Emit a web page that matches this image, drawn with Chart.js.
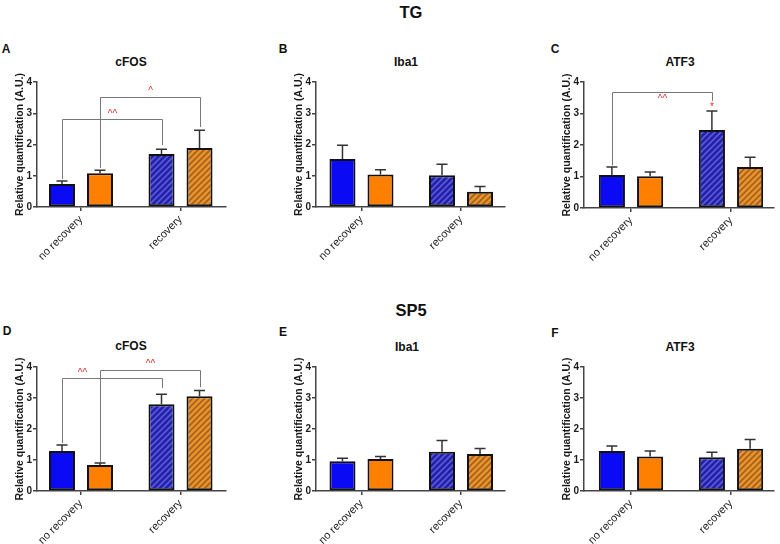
<!DOCTYPE html>
<html>
<head>
<meta charset="utf-8">
<script src="https://cdn.jsdelivr.net/npm/chart.js@4.4.0/dist/chart.umd.min.js"></script>
<style>
  html, body { margin: 0; padding: 0; background: #fff; }
  #wrap { position: relative; width: 780px; height: 544px; overflow: hidden;
          font-family: "Liberation Sans", Arial, sans-serif; color: #111; }
  .txt { position: absolute; transform: translate(-50%, -50%); font-weight: bold; white-space: nowrap; }
  .big { font-size: 16.5px; }
  .let { font-size: 12px; }
  .sub { font-size: 12px; }
  canvas { position: absolute; }
</style>
</head>
<body>
<div id="wrap">
  <div class="txt big" style="left:411px;top:12px">TG</div>
  <div class="txt big" style="left:411px;top:310px">SP5</div>

  <div class="txt let" style="left:6px;top:49px">A</div>
  <div class="txt let" style="left:283px;top:49px">B</div>
  <div class="txt let" style="left:555px;top:49px">C</div>
  <div class="txt let" style="left:7px;top:331px">D</div>
  <div class="txt let" style="left:283px;top:332px">E</div>
  <div class="txt let" style="left:555px;top:333px">F</div>

  <div class="txt sub" style="left:131px;top:62px">cFOS</div>
  <div class="txt sub" style="left:406px;top:62px">Iba1</div>
  <div class="txt sub" style="left:680px;top:62px">ATF3</div>
  <div class="txt sub" style="left:131px;top:346px">cFOS</div>
  <div class="txt sub" style="left:407px;top:347px">Iba1</div>
  <div class="txt sub" style="left:680px;top:347px">ATF3</div>
</div>

<script>
/* ---- Dados ---- */
const categories = ['no recovery', 'recovery'];
const groupPos   = [0, 1];
const yTicks     = [0, 1, 2, 3, 4];
const yTitle     = 'Relative quantification (A.U.)';

// TG
const tgCfosBlue      = [0.74, 1.70];
const tgCfosBlueErr   = [0.09, 0.15];
const tgCfosOrange    = [1.08, 1.89];
const tgCfosOrangeErr = [0.10, 0.57];

const tgIbaBlue       = [1.54, 1.02];
const tgIbaBlueErr    = [0.44, 0.35];
const tgIbaOrange     = [1.04, 0.49];
const tgIbaOrangeErr  = [0.15, 0.17];

const tgAtfBlue       = [1.05, 2.48];
const tgAtfBlueErr    = [0.25, 0.60];
const tgAtfOrange     = [1.01, 1.30];
const tgAtfOrangeErr  = [0.13, 0.31];

// SP5
const spCfosBlue      = [1.29, 2.80];
const spCfosBlueErr   = [0.19, 0.32];
const spCfosOrange    = [0.84, 3.06];
const spCfosOrangeErr = [0.06, 0.18];

const spIbaBlue       = [0.96, 1.27];
const spIbaBlueErr    = [0.10, 0.36];
const spIbaOrange     = [1.03, 1.19];
const spIbaOrangeErr  = [0.08, 0.18];

const spAtfBlue       = [1.29, 1.09];
const spAtfBlueErr    = [0.16, 0.16];
const spAtfOrange     = [1.11, 1.36];
const spAtfOrangeErr  = [0.18, 0.30];

// colchetes de significância: dataset, altura, pernas [esq, dir], rótulo
const tgCfosBrackets = [
  { ds: 0, top: 2.82, legs: [0.90, 1.98], label: '^^', at: 0.5, labelY: 2.97 },
  { ds: 1, top: 3.52, legs: [1.25, 2.56], label: '^',  at: 0.5, labelY: 3.70 }
];
const tgAtfBrackets = [
  { ds: 0, top: 3.68, legs: [1.35, 3.40], label: '^^', at: 0.5, labelY: 3.46 }
];
const tgAtfStars = [ { ds: 0, group: 1, y: 3.20, label: '*' } ];
const spCfosBrackets = [
  { ds: 0, top: 3.65, legs: [1.55, 3.32], label: '^^', at: 0.2, labelY: 3.81 },
  { ds: 1, top: 3.90, legs: [0.94, 3.35], label: '^^', at: 0.5, labelY: 4.08 }
];

/* ---- Painéis ---- */
const panels = [
  { axis: [37, 226, 82, 207],  xr: [-0.442, 1.457], blue: tgCfosBlue, blueErr: tgCfosBlueErr, orange: tgCfosOrange, orangeErr: tgCfosOrangeErr, brackets: tgCfosBrackets },
  { axis: [316, 505, 82, 207], xr: [-0.457, 1.442], blue: tgIbaBlue,  blueErr: tgIbaBlueErr,  orange: tgIbaOrange,  orangeErr: tgIbaOrangeErr },
  { axis: [584, 774, 82, 208], xr: [-0.47, 1.43],   blue: tgAtfBlue,  blueErr: tgAtfBlueErr,  orange: tgAtfOrange,  orangeErr: tgAtfOrangeErr, brackets: tgAtfBrackets, stars: tgAtfStars },
  { axis: [37, 226, 367, 491], xr: [-0.442, 1.457], blue: spCfosBlue, blueErr: spCfosBlueErr, orange: spCfosOrange, orangeErr: spCfosOrangeErr, brackets: spCfosBrackets },
  { axis: [316, 505, 367, 491],xr: [-0.457, 1.442], blue: spIbaBlue,  blueErr: spIbaBlueErr,  orange: spIbaOrange,  orangeErr: spIbaOrangeErr },
  { axis: [584, 774, 367, 491],xr: [-0.47, 1.43],   blue: spAtfBlue,  blueErr: spAtfBlueErr,  orange: spAtfOrange,  orangeErr: spAtfOrangeErr }
];

const Y_W = 37, PAD_T = 10, X_H = 70, PAD_R = 6;
const AXIS_COLOR = '#444';
const FONT = '"Liberation Sans", Arial, sans-serif';

/* ---- Hachura diagonal ---- */
function makeHatch(ctx, bg, stripe) {
  const c = document.createElement('canvas');
  c.width = 6; c.height = 6;
  const g = c.getContext('2d');
  g.fillStyle = bg; g.fillRect(0, 0, 6, 6);
  g.strokeStyle = stripe; g.lineWidth = 1.6;
  g.beginPath();
  g.moveTo(-1, 7); g.lineTo(7, -1);
  g.moveTo(-1, 1); g.lineTo(1, -1);
  g.moveTo(5, 7);  g.lineTo(7, 5);
  g.stroke();
  return ctx.createPattern(c, 'repeat');
}

/* ---- Barras de erro + colchetes ---- */
const annotPlugin = {
  id: 'annot',
  afterDatasetsDraw(chart, args, opts) {
    const { ctx } = chart;
    const y = chart.scales.y;
    ctx.save();

    // barras de erro (só para cima)
    ctx.strokeStyle = '#333';
    ctx.lineWidth = 1.5;
    chart.data.datasets.forEach((ds, i) => {
      chart.getDatasetMeta(i).data.forEach((bar, j) => {
        const yTop = y.getPixelForValue(ds.data[j].y + ds.err[j]);
        ctx.beginPath();
        ctx.moveTo(bar.x, bar.y);
        ctx.lineTo(bar.x, yTop);
        ctx.moveTo(bar.x - 5.5, yTop);
        ctx.lineTo(bar.x + 5.5, yTop);
        ctx.stroke();
      });
    });

    // colchetes
    ctx.strokeStyle = '#777';
    ctx.lineWidth = 1;
    ctx.fillStyle = '#e02a2a';
    ctx.font = '10px ' + FONT;
    ctx.textAlign = 'center';
    ctx.textBaseline = 'middle';
    (opts.brackets || []).forEach(b => {
      const bars = chart.getDatasetMeta(b.ds).data;
      const x0 = Math.round(bars[0].x) + 0.5, x1 = Math.round(bars[1].x) + 0.5;
      const yt = Math.round(y.getPixelForValue(b.top)) + 0.5;
      ctx.beginPath();
      ctx.moveTo(x0, y.getPixelForValue(b.legs[0]));
      ctx.lineTo(x0, yt);
      ctx.lineTo(x1, yt);
      ctx.lineTo(x1, y.getPixelForValue(b.legs[1]));
      ctx.stroke();
      ctx.fillText(b.label, x0 + (x1 - x0) * b.at, y.getPixelForValue(b.labelY));
    });
    (opts.stars || []).forEach(s => {
      const bar = chart.getDatasetMeta(s.ds).data[s.group];
      ctx.fillText(s.label, bar.x, y.getPixelForValue(s.y));
    });
    ctx.restore();
  }
};

/* ---- Monta cada gráfico ---- */
const wrap = document.getElementById('wrap');

panels.forEach(p => {
  const [l, r, t, b] = p.axis;
  const cv = document.createElement('canvas');
  const w = (r - l) + Y_W + PAD_R;
  const h = PAD_T + (b - t) + X_H;
  cv.width = w; cv.height = h;
  cv.style.left = (l - Y_W) + 'px';
  cv.style.top  = (t - PAD_T) + 'px';
  wrap.appendChild(cv);
  const ctx = cv.getContext('2d');

  const blueHatch   = makeHatch(ctx, '#2222a8', '#5a5ad8');
  const orangeHatch = makeHatch(ctx, '#ea922c', '#a2621c');

  const toPts = vals => vals.map((v, i) => ({ x: groupPos[i], y: v }));

  new Chart(ctx, {
    type: 'bar',
    data: {
      datasets: [
        { label: 'blue', data: toPts(p.blue), err: p.blueErr,
          backgroundColor: ['#0a0af5', blueHatch] },
        { label: 'orange', data: toPts(p.orange), err: p.orangeErr,
          backgroundColor: ['#ff8000', orangeHatch] }
      ]
    },
    options: {
      responsive: false,
      animation: false,
      devicePixelRatio: 1,
      layout: { padding: { left: 0, right: PAD_R, top: PAD_T, bottom: 0 } },
      datasets: {
        bar: {
          borderColor: '#111',
          borderWidth: 2,
          borderSkipped: false,
          categoryPercentage: 0.764,
          barPercentage: 0.684
        }
      },
      scales: {
        x: {
          type: 'linear',
          min: p.xr[0],
          max: p.xr[1],
          offset: false,
          afterBuildTicks: s => { s.ticks = groupPos.map(v => ({ value: v })); },
          afterFit: s => { s.height = X_H; s.paddingLeft = 0; s.paddingRight = 0; },
          ticks: {
            autoSkip: false,
            minRotation: 45,
            maxRotation: 45,
            padding: 2,
            color: '#1a1a1a',
            font: { family: FONT, size: 11 },
            callback: (v, i) => categories[i]
          },
          grid: { drawOnChartArea: false, offset: false, tickLength: 4, color: AXIS_COLOR, lineWidth: 1.5 },
          border: { color: AXIS_COLOR, width: 1.5 }
        },
        y: {
          min: 0,
          max: 4,
          afterBuildTicks: s => { s.ticks = yTicks.map(v => ({ value: v })); },
          afterFit: s => { s.width = Y_W; s.paddingTop = 0; s.paddingBottom = 0; },
          ticks: {
            padding: 1,
            color: '#1a1a1a',
            font: { family: FONT, size: 10, weight: 'bold' }
          },
          grid: { drawOnChartArea: false, tickLength: 4, color: AXIS_COLOR, lineWidth: 1.5 },
          border: { color: AXIS_COLOR, width: 1.5 },
          title: {
            display: true,
            text: yTitle,
            color: '#1a1a1a',
            padding: { top: 14, bottom: 0 },
            font: { family: FONT, size: 10.5, weight: 'bold' }
          }
        }
      },
      plugins: {
        legend: { display: false },
        tooltip: { enabled: false },
        annot: { brackets: p.brackets, stars: p.stars }
      }
    },
    plugins: [annotPlugin]
  });
});
</script>
</body>
</html>
